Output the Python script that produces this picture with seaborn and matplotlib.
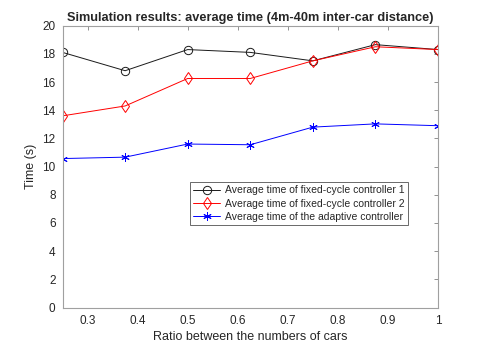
import matplotlib
matplotlib.use("Agg")
import matplotlib.pyplot as plt
import seaborn as sns
import pandas as pd

ratios = [0.25, 0.375, 0.5, 0.625, 0.75, 0.875, 1.0]
fixed1 = [18.1, 16.8, 18.3, 18.1, 17.5, 18.65, 18.3]
fixed2 = [13.6, 14.3, 16.25, 16.25, 17.5, 18.5, 18.3]
adaptive = [10.57, 10.67, 11.6, 11.55, 12.8, 13.03, 12.9]
labels = ["Average time of fixed-cycle controller 1",
          "Average time of fixed-cycle controller 2",
          "Average time of the adaptive controller"]
xticks = [0.3, 0.4, 0.5, 0.6, 0.7, 0.8, 0.9, 1]
xticklabels = ["0.3", "0.4", "0.5", "0.6", "0.7", "0.8", "0.9", "1"]
yticks = list(range(0, 21, 2))

sns.set_theme(style="white")
plt.rcParams['font.family'] = ['Liberation Sans', 'DejaVu Sans']

fig = plt.figure(figsize=(4.85, 3.46), dpi=100)
ax = fig.add_axes([0.129, 0.111, 0.774, 0.815])

df = pd.DataFrame({"x": ratios * 3,
                   "y": fixed1 + fixed2 + adaptive,
                   "s": [labels[0]] * 7 + [labels[1]] * 7 + [labels[2]] * 7})
styles = [("k", "o", 6), ("#ff0000", "d", 6.5), ("#0000ff", (6, 2, 0), 6)]
for (c, m, ms), lab in zip(styles, labels):
    sub = df[df["s"] == lab]
    sns.lineplot(data=sub, x="x", y="y", ax=ax, color=c, marker=m,
                 markersize=ms, markerfacecolor="none",
                 markeredgecolor=c, markeredgewidth=0.7, linewidth=0.7, label=lab)

ax.set_xlim(0.25, 1.0)
ax.set_ylim(0, 20)
ax.set_xticks(xticks)
ax.set_xticklabels(xticklabels)
ax.set_yticks(yticks)
ax.tick_params(direction="in", length=3, width=0.6, color="#808080", labelcolor="#262626",
               labelsize=8.5, top=True, right=True, labeltop=False, labelright=False, pad=5)
for sp in ax.spines.values():
    sp.set_color("#a0a0a0")
    sp.set_linewidth(0.8)
ax.set_xlabel("Ratio between the numbers of cars", fontsize=9, color="#262626", labelpad=3)
ax.set_ylabel("Time (s)", fontsize=9, color="#262626")
ax.set_title("Simulation results: average time (4m-40m inter-car distance)",
             fontsize=9.2, fontweight="bold", pad=3)
leg = ax.legend(loc="upper right", bbox_to_anchor=(0.92, 0.446), fontsize=7.5,
                frameon=True, fancybox=False, borderpad=0.35, labelspacing=0.3,
                handlelength=2.6, handletextpad=0.4, borderaxespad=0)
leg.get_frame().set_edgecolor("#262626")
leg.get_frame().set_linewidth(0.6)
fig.savefig("out.png", dpi=100)
